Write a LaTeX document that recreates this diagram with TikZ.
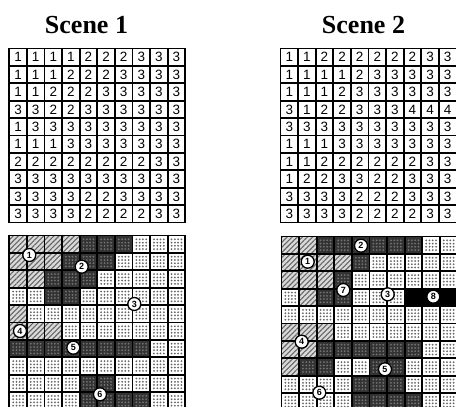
\documentclass[tikz,border=0pt]{standalone}
\usepackage{fontspec}
\setmainfont{Liberation Serif}
\newfontfamily\digitfont{Liberation Sans}
\usetikzlibrary{patterns.meta}

\newcommand{\cw}{17.6}
\newcommand{\ch}{17.4}

% top grid: x0, y0, name prefix, data
\newcommand{\numgrid}[4]{%
  \foreach \row [count=\r] in {#4} {
    \foreach \v [count=\c] in \row {
      \node[digit] (#3-\r-\c) at ({#1+(\c-0.5)*\cw},{#2+(\r-0.5)*\ch}) {\v};
    }
  }
  \foreach \i in {0,...,10} {
    \draw[gridline] ({#1+\i*\cw},{#2}) -- ({#1+\i*\cw},{#2+10*\ch});
    \draw[gridline] ({#1},{#2+\i*\ch}) -- ({#1+10*\cw},{#2+\i*\ch});
  }
}

% bottom grid: x0, y0, data
\newcommand{\mapgrid}[3]{%
  \foreach \row [count=\r] in {#3} {
    \foreach \v [count=\c] in \row {
      \path[cell\v] ({#1+(\c-1)*\cw},{#2+(\r-1)*\ch}) rectangle ++(\cw,\ch);
      \ifnum\v=3
        \foreach \a in {0.22,0.41,0.59,0.78} {
          \foreach \b in {0.22,0.41,0.59,0.78} {
            \fill[dotcol] ({#1+(\c-1+\a)*\cw},{#2+(\r-1+\b)*\ch}) circle (1.0);
          }
        }
      \fi
      \ifnum\v=2
        \foreach \a in {0.22,0.41,0.59,0.78} {
          \foreach \b in {0.22,0.41,0.59,0.78} {
            \fill[darkdot] ({#1+(\c-1+\a)*\cw},{#2+(\r-1+\b)*\ch}) circle (1.0);
          }
        }
      \fi
    }
  }
  \foreach \i in {0,...,10} {
    \draw[gridline] ({#1+\i*\cw},{#2}) -- ({#1+\i*\cw},{#2+10*\ch});
    \draw[gridline] ({#1},{#2+\i*\ch}) -- ({#1+10*\cw},{#2+\i*\ch});
  }
}

\begin{document}
\begin{tikzpicture}[x=1pt,y=-1pt,
  gridline/.style={line width=1.8pt, line cap=rect},
  title/.style={font=\bfseries\fontsize{26}{28}\selectfont, inner sep=0pt},
  digit/.style={font=\digitfont\fontsize{13.5}{13.5}\selectfont, inner sep=0pt},
  marker/.style={circle, draw, line width=1.3pt, fill=white, minimum size=13pt, inner sep=0pt, font=\digitfont\bfseries\fontsize{9}{9}\selectfont},
  dotcol/.style={fill=black!60},
  darkdot/.style={fill=black!55},
  cell1/.style={preaction={fill=gray!30}, pattern={Lines[angle=45,distance=3.6pt,line width=1.1pt]}, pattern color=black!60},
  cell2/.style={fill=black!80},
  cell3/.style={fill=white},
  cell4/.style={fill=black},
]
\useasboundingbox (0,0) rectangle (456,407);
\clip (0,0) rectangle (456,407);

\node[title, anchor=base] (t1) at (86.5,33) {Scene 1};
\node[title, anchor=base] (t2) at (363.5,33) {Scene 2};

\numgrid{9.3}{48.5}{a}{
 {1,1,1,1,2,2,2,3,3,3},
 {1,1,1,2,2,2,3,3,3,3},
 {1,1,2,2,2,3,3,3,3,3},
 {3,3,2,2,3,3,3,3,3,3},
 {1,3,3,3,3,3,3,3,3,3},
 {1,1,1,3,3,3,3,3,3,3},
 {2,2,2,2,2,2,2,2,3,3},
 {3,3,3,3,3,3,3,3,3,3},
 {3,3,3,3,2,2,3,3,3,3},
 {3,3,3,3,2,2,2,2,3,3}}

\numgrid{280.5}{48.5}{b}{
 {1,1,2,2,2,2,2,2,3,3},
 {1,1,1,1,2,3,3,3,3,3},
 {1,1,1,2,3,3,3,3,3,3},
 {3,1,2,2,3,3,3,4,4,4},
 {3,3,3,3,3,3,3,3,3,3},
 {1,1,1,3,3,3,3,3,3,3},
 {1,1,2,2,2,2,2,2,3,3},
 {1,2,2,3,3,2,2,3,3,3},
 {3,3,3,3,2,2,2,3,3,3},
 {3,3,3,3,2,2,2,2,3,3}}

\mapgrid{9.3}{235.5}{
 {1,1,1,1,2,2,2,3,3,3},
 {1,1,1,2,2,2,3,3,3,3},
 {1,1,2,2,2,3,3,3,3,3},
 {3,3,2,2,3,3,3,3,3,3},
 {1,3,3,3,3,3,3,3,3,3},
 {1,1,1,3,3,3,3,3,3,3},
 {2,2,2,2,2,2,2,2,3,3},
 {3,3,3,3,3,3,3,3,3,3},
 {3,3,3,3,2,2,3,3,3,3},
 {3,3,3,3,2,2,2,2,3,3}}

\mapgrid{281.5}{236.5}{
 {1,1,2,2,2,2,2,2,3,3},
 {1,1,1,1,2,3,3,3,3,3},
 {1,1,1,2,3,3,3,3,3,3},
 {3,1,2,2,3,3,3,4,4,4},
 {3,3,3,3,3,3,3,3,3,3},
 {1,1,1,3,3,3,3,3,3,3},
 {1,1,2,2,2,2,2,2,3,3},
 {1,2,2,3,3,2,2,3,3,3},
 {3,3,3,3,2,2,2,3,3,3},
 {3,3,3,3,2,2,2,2,3,3}}

% region markers, scene 1
\node[marker] (m1a) at (29.3,255) {1};
\node[marker] (m1b) at (81.7,266.7) {2};
\node[marker] (m1c) at (134.3,304) {3};
\node[marker] (m1d) at (20,331) {4};
\node[marker] (m1e) at (73.3,347.7) {5};
\node[marker] (m1f) at (100,394.3) {6};

% region markers, scene 2
\node[marker] (m2a) at (307.7,261.7) {1};
\node[marker] (m2b) at (361,245.7) {2};
\node[marker] (m2c) at (387.7,294.3) {3};
\node[marker] (m2d) at (301.7,341.7) {4};
\node[marker] (m2e) at (385,369.3) {5};
\node[marker] (m2f) at (319.3,392.7) {6};
\node[marker] (m2g) at (343.3,290) {7};
\node[marker] (m2h) at (433.3,296.7) {8};
\end{tikzpicture}
\end{document}
